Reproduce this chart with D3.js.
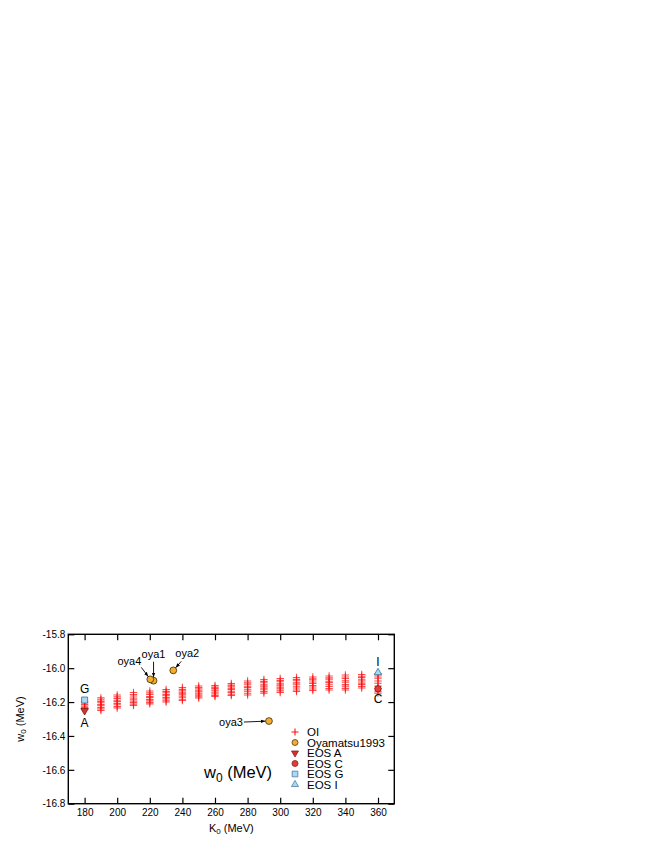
<!DOCTYPE html>
<html>
<head>
<meta charset="utf-8">
<script src="https://cdn.jsdelivr.net/npm/d3@7"></script>
<style>
  body { margin: 0; background: #fff; }
  text { font-family: "Liberation Sans", Arial, sans-serif; }
</style>
</head>
<body>
<div id="chart"></div>
<script>
// K0 values of the OI columns
const oiK = [180, 190, 200, 210, 220, 230, 240, 250, 260, 270, 280, 290, 300, 310, 320, 330, 340, 350, 360];
// w0 values in each OI column
const oiW0 = [
  [-16.195, -16.205, -16.214, -16.224, -16.233, -16.242],
  [-16.175, -16.186, -16.196, -16.204, -16.215, -16.222, -16.233, -16.241, -16.250],
  [-16.158, -16.169, -16.178, -16.189, -16.197, -16.208, -16.216, -16.227, -16.235],
  [-16.144, -16.155, -16.164, -16.176, -16.183, -16.194, -16.202, -16.212, -16.220],
  [-16.135, -16.146, -16.155, -16.167, -16.174, -16.185, -16.193, -16.203, -16.211],
  [-16.126, -16.137, -16.145, -16.156, -16.163, -16.174, -16.182, -16.192, -16.200],
  [-16.114, -16.125, -16.134, -16.146, -16.153, -16.164, -16.172, -16.183, -16.191],
  [-16.105, -16.115, -16.123, -16.134, -16.141, -16.151, -16.159, -16.169, -16.176],
  [-16.102, -16.112, -16.119, -16.129, -16.135, -16.145, -16.152, -16.161, -16.167],
  [-16.090, -16.100, -16.107, -16.118, -16.125, -16.136, -16.144, -16.154, -16.161],
  [-16.076, -16.087, -16.095, -16.107, -16.115, -16.127, -16.136, -16.148, -16.158],
  [-16.067, -16.078, -16.086, -16.098, -16.106, -16.118, -16.127, -16.138, -16.147],
  [-16.061, -16.072, -16.080, -16.092, -16.100, -16.112, -16.122, -16.134, -16.144],
  [-16.055, -16.066, -16.074, -16.086, -16.094, -16.107, -16.117, -16.129, -16.138],
  [-16.052, -16.063, -16.070, -16.082, -16.090, -16.102, -16.111, -16.123, -16.132],
  [-16.046, -16.057, -16.065, -16.077, -16.085, -16.098, -16.108, -16.120, -16.129],
  [-16.040, -16.052, -16.061, -16.074, -16.083, -16.096, -16.106, -16.119, -16.129],
  [-16.037, -16.048, -16.056, -16.068, -16.076, -16.088, -16.097, -16.108, -16.117],
  [-16.031, -16.046, -16.059, -16.076, -16.089, -16.106, -16.120, -16.136, -16.147]
];

// Oyamatsu1993 points
const oyaNames = ["oya1", "oya2", "oya3", "oya4"];
const oyaK = [222.3, 234.4, 293.1, 220.3];
const oyaW0 = [-16.074, -16.013, -16.312, -16.066];

// EOS points
const eosNames = ["A", "C", "G", "I"];
const eosK = [180, 360, 180, 360];
const eosW0 = [-16.251, -16.122, -16.188, -16.026];

const xTicks = [180, 200, 220, 240, 260, 280, 300, 320, 340, 360];
const yTicks = [-15.8, -16.0, -16.2, -16.4, -16.6, -16.8];

const width = 654, height = 846;
const margin = {left: 68.3, right: 654 - 394.3, top: 634.3, bottom: 846 - 803.7};

const svg = d3.select("#chart").append("svg")
  .attr("width", width).attr("height", height);

const x = d3.scaleLinear().domain([170, 370]).range([margin.left, width - margin.right]);
const y = d3.scaleLinear().domain([-16.8, -15.8]).range([height - margin.bottom, margin.top]);

const tickLen = 6;

// axes, ticks pointing inward on all four sides
const axes = svg.append("g").attr("font-size", 11);
axes.append("g")
  .attr("transform", `translate(0,${y.range()[0]})`)
  .call(d3.axisBottom(x).tickValues(xTicks).tickSize(-tickLen).tickSizeOuter(0).tickPadding(5));
axes.append("g")
  .attr("transform", `translate(0,${y.range()[1]})`)
  .call(d3.axisTop(x).tickValues(xTicks).tickSize(-tickLen).tickSizeOuter(0).tickFormat(""));
axes.append("g")
  .attr("transform", `translate(${x.range()[0]},0)`)
  .call(d3.axisLeft(y).tickValues(yTicks).tickSize(-tickLen).tickSizeOuter(0).tickPadding(3)
    .tickFormat(d => d.toFixed(1)));
axes.append("g")
  .attr("transform", `translate(${x.range()[1]},0)`)
  .call(d3.axisRight(y).tickValues(yTicks).tickSize(-tickLen).tickSizeOuter(0).tickFormat(""));
axes.selectAll(".domain").remove();
axes.selectAll("line").attr("stroke", "#000").attr("stroke-width", 1.2);
axes.selectAll("text").attr("fill", "#000").attr("font-family", "Liberation Sans, Arial, sans-serif");

svg.append("rect")
  .attr("x", x.range()[0]).attr("y", y.range()[1])
  .attr("width", x.range()[1] - x.range()[0])
  .attr("height", y.range()[0] - y.range()[1])
  .attr("fill", "none").attr("stroke", "#000").attr("stroke-width", 1.4);

// axis titles
const xt = svg.append("text")
  .attr("x", (x.range()[0] + x.range()[1]) / 2).attr("y", 832)
  .attr("text-anchor", "middle").attr("font-size", 11);
xt.append("tspan").text("K");
xt.append("tspan").attr("font-size", 8).attr("dy", 2).text("0");
xt.append("tspan").attr("dy", -2).text(" (MeV)");

const yt = svg.append("text")
  .attr("transform", `translate(24,${(y.range()[0] + y.range()[1]) / 2}) rotate(-90)`)
  .attr("text-anchor", "middle").attr("font-size", 11);
yt.append("tspan").text("w");
yt.append("tspan").attr("font-size", 8).attr("dy", 2).text("0");
yt.append("tspan").attr("dy", -2).text(" (MeV)");

// OI plus markers
const oiPts = [];
oiK.forEach((k, i) => oiW0[i].forEach(w => oiPts.push({k, w})));
const plus = 3.7;
svg.append("g")
  .selectAll("path")
  .data(oiPts)
  .enter()
  .append("path")
  .attr("d", d => {
    const cx = x(d.k), cy = y(d.w);
    return `M${cx - plus},${cy}H${cx + plus}M${cx},${cy - plus}V${cy + plus}`;
  })
  .attr("stroke", "#ff1010")
  .attr("stroke-opacity", 0.75)
  .attr("stroke-width", 1.1)
  .attr("fill", "none");

// symbol styles
const eosStyle = {
  A: {type: d3.symbolTriangle, rot: 180, fill: "#d8302c", stroke: "#7a1a14", size: 24},
  C: {type: d3.symbolCircle, rot: 0, fill: "#e83a3a", stroke: "#7a1a14", size: 32},
  G: {type: d3.symbolSquare, rot: 0, fill: "#a8d8f2", stroke: "#3a6e9a", size: 36},
  I: {type: d3.symbolTriangle, rot: 0, fill: "#a8d8f2", stroke: "#3a6e9a", size: 24}
};

// EOS markers
svg.append("g")
  .selectAll("path")
  .data(eosNames.map((n, i) => ({n, k: eosK[i], w: eosW0[i]})))
  .enter()
  .append("path")
  .attr("transform", d => `translate(${x(d.k)},${y(d.w)}) rotate(${eosStyle[d.n].rot})`)
  .attr("d", d => d3.symbol().type(eosStyle[d.n].type).size(eosStyle[d.n].size)())
  .attr("fill", d => eosStyle[d.n].fill)
  .attr("stroke", d => eosStyle[d.n].stroke)
  .attr("stroke-width", 0.8);

// EOS letters (above or below their marker)
const eosLabelDy = {A: 16, C: 14, G: -7, I: -7};
svg.append("g")
  .selectAll("text")
  .data(eosNames.map((n, i) => ({n, k: eosK[i], w: eosW0[i]})))
  .enter()
  .append("text")
  .attr("x", d => x(d.k))
  .attr("y", d => y(d.w) + eosLabelDy[d.n])
  .attr("text-anchor", "middle")
  .attr("font-size", 12)
  .text(d => d.n);

// Oyamatsu circles
const oyaPts = oyaNames.map((n, i) => ({n, k: oyaK[i], w: oyaW0[i]}));
svg.append("g")
  .selectAll("circle")
  .data(oyaPts)
  .enter()
  .append("circle")
  .attr("cx", d => x(d.k)).attr("cy", d => y(d.w))
  .attr("r", 3.4)
  .attr("fill", "#f2ae2e")
  .attr("stroke", "#3a2a10")
  .attr("stroke-width", 0.8);

// annotation labels with arrows: offsets from the point (label anchor, arrow start)
const oyaNote = {
  oya1: {tx: 0, ty: -23, anchor: "middle", ax: 0, ay: -19},
  oya2: {tx: 2, ty: -13, anchor: "start", ax: 8, ay: -9},
  oya3: {tx: -26, ty: 5, anchor: "end", ax: -25, ay: 1},
  oya4: {tx: -9, ty: -14, anchor: "end", ax: -9, ay: -12}
};
svg.append("defs").append("marker")
  .attr("id", "arr").attr("viewBox", "0 0 10 10")
  .attr("refX", 10).attr("refY", 5)
  .attr("markerWidth", 5).attr("markerHeight", 5)
  .attr("orient", "auto")
  .append("path").attr("d", "M0,1L10,5L0,9Z").attr("fill", "#000");

const notes = svg.append("g");
oyaPts.forEach(d => {
  const o = oyaNote[d.n], px = x(d.k), py = y(d.w);
  const ang = Math.atan2(-o.ay, -o.ax);
  notes.append("line")
    .attr("x1", px + o.ax).attr("y1", py + o.ay)
    .attr("x2", px - 3.6 * Math.cos(ang)).attr("y2", py - 3.6 * Math.sin(ang))
    .attr("stroke", "#000").attr("stroke-width", 0.9)
    .attr("marker-end", "url(#arr)");
  notes.append("text")
    .attr("x", px + o.tx).attr("y", py + o.ty)
    .attr("text-anchor", o.anchor)
    .attr("font-size", 11)
    .text(d.n);
});

// big panel title
const title = svg.append("text").attr("x", 204).attr("y", 778).attr("font-size", 16.5);
title.append("tspan").text("w");
title.append("tspan").attr("font-size", 12).attr("dy", 4).text("0");
title.append("tspan").attr("dy", -4).text(" (MeV)");

// legend
const legendItems = [
  {label: "OI", kind: "plus"},
  {label: "Oyamatsu1993", kind: "oya"},
  {label: "EOS A", kind: "A"},
  {label: "EOS C", kind: "C"},
  {label: "EOS G", kind: "G"},
  {label: "EOS I", kind: "I"}
];
const lg = svg.append("g").attr("transform", "translate(295,732)");
legendItems.forEach((it, i) => {
  const row = lg.append("g").attr("transform", `translate(0,${i * 10.5})`);
  if (it.kind === "plus") {
    row.append("path").attr("d", "M-3.5,0H3.5M0,-3.5V3.5")
      .attr("stroke", "#ff1010").attr("stroke-width", 1.1);
  } else if (it.kind === "oya") {
    row.append("circle").attr("r", 3).attr("fill", "#f2ae2e")
      .attr("stroke", "#3a2a10").attr("stroke-width", 0.7);
  } else {
    const s = eosStyle[it.kind];
    row.append("path")
      .attr("transform", `rotate(${s.rot})`)
      .attr("d", d3.symbol().type(s.type).size(s.size * 0.9)())
      .attr("fill", s.fill).attr("stroke", s.stroke).attr("stroke-width", 0.7);
  }
  row.append("text").attr("x", 12).attr("y", 4).attr("font-size", 11.5).text(it.label);
});
</script>
</body>
</html>
